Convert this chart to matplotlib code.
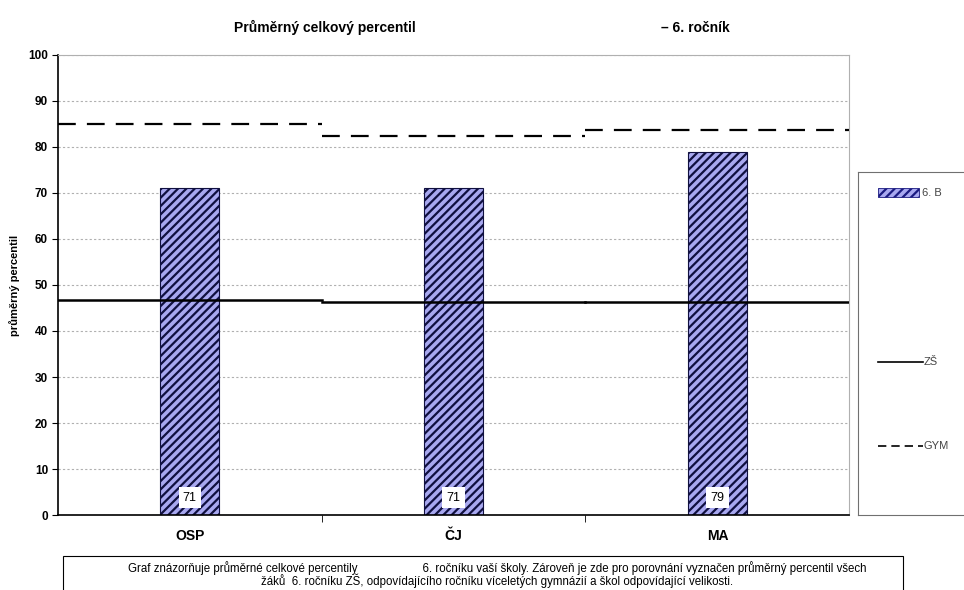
import numpy as np
import matplotlib.pyplot as plt
from matplotlib.patches import Rectangle
from matplotlib.lines import Line2D

plt.rcParams['font.family'] = ['Liberation Sans', 'DejaVu Sans']
plt.rcParams['hatch.color'] = '#1a1a80'
plt.rcParams['hatch.linewidth'] = 1.6

# data
categories = ['OSP', 'ČJ', 'MA']
trida = [71, 71, 79]          # 6. B
zs = [46.8, 46.2, 46.2]       # ZŠ
gym = [85.0, 82.3, 83.6]      # GYM
yticks = list(range(0, 101, 10))

fig = plt.figure(figsize=(9.64, 5.9), dpi=100)
ax = fig.add_axes([0.060, 0.127, 0.821, 0.780])

x = np.arange(len(categories))
ax.bar(x, trida, width=0.225, color='#a8a8f0', edgecolor='#101040', linewidth=0.8,
       hatch='////', zorder=2)

# srovnavaci cary pres celou kategorii
for i in range(len(categories)):
    ax.plot([i - 0.5, i + 0.5], [zs[i], zs[i]], color='black', lw=1.8, zorder=3)
    ax.plot([i - 0.5, i + 0.5], [gym[i], gym[i]], color='black', lw=1.6,
            dashes=(8, 5), zorder=3)

for i, v in enumerate(trida):
    ax.text(i, 3.8, str(v), ha='center', va='center', fontsize=9,
            bbox=dict(facecolor='white', edgecolor='none', pad=3), zorder=4)

ax.set_xlim(-0.5, len(categories) - 0.5)
ax.set_ylim(0, 100)
ax.set_yticks(yticks)
ax.set_yticklabels([str(t) for t in yticks], fontsize=8.5, fontweight='bold')
ax.set_xticks(x)
ax.set_xticklabels(categories, fontsize=10, fontweight='bold')
ax.tick_params(axis='x', length=0, pad=10)
ax.set_xticks([0.5, 1.5], minor=True)
ax.tick_params(axis='x', which='minor', length=5, direction='out')
ax.tick_params(axis='y', length=4, direction='out', pad=3)
ax.yaxis.grid(True, color='#b0b0b0', linestyle=(0, (2, 2)), lw=0.8)
ax.set_axisbelow(True)
ax.set_ylabel('průměrný percentil', fontsize=8, fontweight='bold', labelpad=6)
for s in ['top', 'right']:
    ax.spines[s].set_color('#b0b0b0')
for s in ['left', 'bottom']:
    ax.spines[s].set_color('black')
    ax.spines[s].set_linewidth(1.2)

fig.text(0.337, 0.953, 'Průměrný celkový percentil', ha='center', va='center',
         fontsize=10, fontweight='bold')
fig.text(0.721, 0.953, '– 6. ročník', ha='center', va='center',
         fontsize=10, fontweight='bold')

# legenda
lax = fig.add_axes([0.890, 0.127, 0.12, 0.582])
lax.set_xlim(0, 1)
lax.set_ylim(0, 1)
lax.set_xticks([])
lax.set_yticks([])
for s in lax.spines.values():
    s.set_color('#707070')
lax.add_patch(Rectangle((0.17, 0.925), 0.36, 0.028, facecolor='#a8a8f0',
                        edgecolor='#1a1a80', hatch='////', lw=0.6))
lax.text(0.55, 0.939, '6. B', va='center', fontsize=8, color='#444444')
lax.add_line(Line2D([0.17, 0.56], [0.446, 0.446], color='black', lw=1.2))
lax.text(0.57, 0.446, 'ZŠ', va='center', fontsize=8, color='#444444')
lax.add_line(Line2D([0.17, 0.56], [0.201, 0.201], color='black', lw=1.2,
                    dashes=(5, 3)))
lax.text(0.57, 0.201, 'GYM', va='center', fontsize=8, color='#444444')

# popisek pod grafem
fig.patches.append(Rectangle((0.0654, -0.02), 0.871, 0.0776, transform=fig.transFigure,
                             facecolor='white', edgecolor='black', lw=0.8, zorder=-1))
fig.text(0.516, 0.037,
         'Graf znázorňuje průměrné celkové percentily                    '
         '6. ročníku vaší školy. Zároveň je zde pro porovnání vyznačen průměrný percentil všech',
         ha='center', va='center', fontsize=8.3)
fig.text(0.516, 0.016,
         'žáků  6. ročníku ZŠ, odpovídajícího ročníku víceletých gymnázií a škol odpovídající velikosti.',
         ha='center', va='center', fontsize=8.3)

fig.savefig('out.png', dpi=100)
